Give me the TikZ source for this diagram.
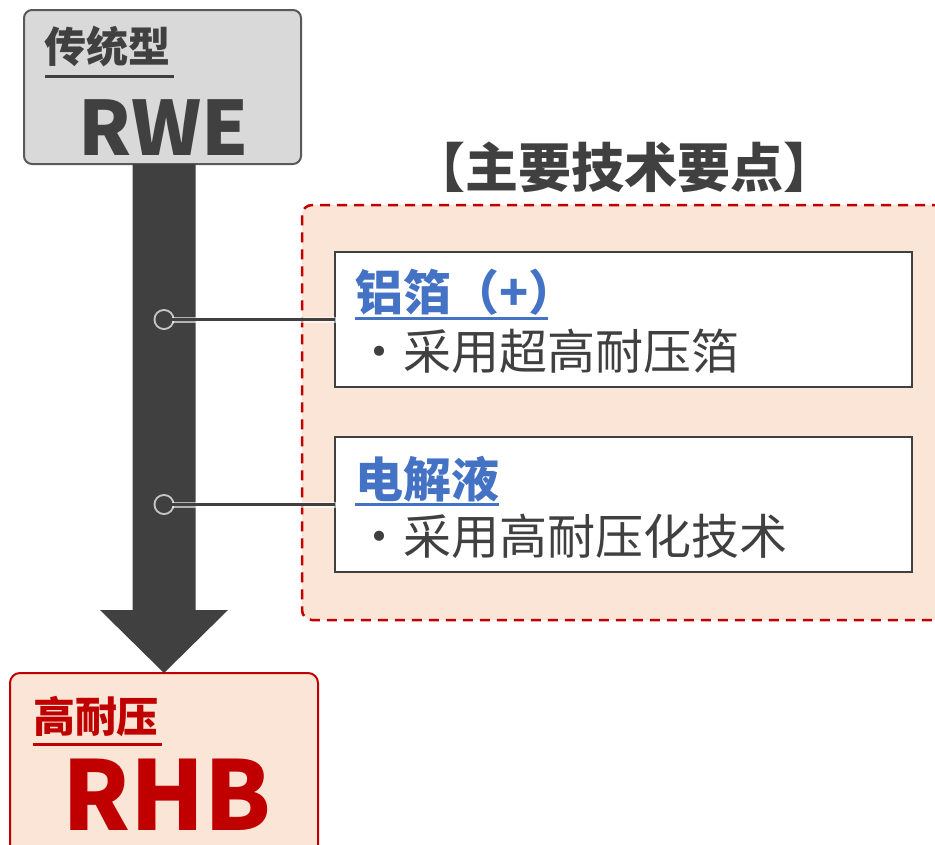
\documentclass[tikz,border=0pt]{standalone}
\usepackage{fontspec}
\setmainfont{Noto Sans CJK SC}
\usetikzlibrary{positioning, calc}

\definecolor{textgray}{HTML}{404040}
\definecolor{boxgray}{HTML}{D9D9D9}
\definecolor{framegray}{HTML}{595959}
\definecolor{peach}{HTML}{FBE5D6}
\definecolor{darkred}{HTML}{C00000}
\definecolor{headblue}{HTML}{4472C4}

\begin{document}
\begin{tikzpicture}[
    x=1pt, y=-1pt,
    every node/.style={inner sep=0pt, outer sep=0pt},
    % Font sizes (bold and regular)
    bold/.style={font=\fontsize{#1}{#1}\selectfont\bfseries},
    plain/.style={font=\fontsize{#1}{#1}\selectfont},
    % Boxes
    oldbox/.style={draw=framegray, line width=2pt, fill=boxgray, rounded corners=8pt},
    newbox/.style={draw=darkred, line width=2pt, fill=peach, rounded corners=10pt},
    keybox/.style={draw=darkred, line width=2.5pt, fill=peach, rounded corners=10pt,
                   dash pattern=on 10pt off 7pt},
    pointbox/.style={draw=textgray, line width=2pt, fill=white},
    % Underlines and leader lines
    uline/.style={draw=#1, line width=3pt},
    leader/.style={draw=textgray, line width=3pt},
    glow/.style={draw=white, line width=#1, opacity=0.6, line cap=round},
    dot/.style={circle, minimum size=17pt, fill=textgray}
]

\clip (0,0) rectangle (935,844);

% === BOXES ===

% Conventional type at the top
\node [oldbox, minimum width=277pt, minimum height=154pt] (rwe) at (162.5,87) {};

% High voltage type at the bottom (runs off the page)
\node [newbox, minimum width=308pt, minimum height=182pt] (rhb) at (164,764) {};

% Key points area
\node [keybox, minimum width=650pt, minimum height=415pt] (keypts) at (627,412.5) {};
\node [bold=53, text=textgray, anchor=base] (title) at (624,187) {【主要技术要点】};

% Point boxes
\node [pointbox, minimum width=577pt, minimum height=135pt] (foil) at (623.5,319.5) {};
\node [pointbox, minimum width=577pt, minimum height=135pt] (elyte) at (623.5,504.5) {};

% === BIG ARROW ===
\fill[textgray] ($(rwe.south -| rhb.north)+(-31.5,0)$)
    -- ($(rhb.north)+(-31.5,-63)$) -- ($(rhb.north)+(-64,-63)$)
    -- (rhb.north)
    -- ($(rhb.north)+(64,-63)$) -- ($(rhb.north)+(31.5,-63)$)
    -- ($(rwe.south -| rhb.north)+(31.5,0)$) -- cycle;

% === TEXTS ===

% RWE box
\node [bold=42, text=textgray, anchor=base west] (rwetag) at ($(rwe.north west)+(21,52)$) {传统型};
\draw[uline=textgray] ($(rwetag.base west)+(0,14)$) -- ($(rwetag.base east)+(3,14)$);
\node [bold=75, text=textgray, anchor=base] (rwename) at ($(rwe.south)+(1.5,-9)$) {RWE};

% RHB box
\node [bold=42, text=darkred, anchor=base west] (rhbtag) at ($(rhb.north west)+(23,59)$) {高耐压};
\node [bold=96, text=darkred, anchor=base] (rhbname) at ($(rhb.north)+(3,157)$) {RHB};
\draw[uline=darkred] ($(rhbtag.base west)+(0,12)$) -- ($(rhbtag.base east)+(3,12)$);

% Foil point
\node [bold=48, text=headblue, anchor=base west] (foilhd) at ($(foil.north west)+(20,58)$) {铝箔（+）};
\draw[uline=headblue] ($(foilhd.base west)+(0,8)$) -- ($(foilhd.base east)+(-28,8)$);
\node [plain=48, text=textgray, anchor=base west] (foiltxt) at ($(foil.north west)+(20,117)$) {・采用超高耐压箔};

% Electrolyte point
\node [bold=48, text=headblue, anchor=base west] (elytehd) at ($(elyte.north west)+(20,60)$) {电解液};
\draw[uline=headblue] ($(elytehd.base west)+(0,7)$) -- ($(elytehd.base east)+(0,7)$);
\node [plain=48, text=textgray, anchor=base west] (elytetxt) at ($(elyte.north west)+(20,117)$) {・采用高耐压化技术};

% === LEADERS ===
\node [dot] (foildot) at (rhb.north |- foil.west) {};
\node [dot] (elytedot) at (rhb.north |- elyte.west) {};
% faint white halo first
\draw[glow=6pt] (foildot.center) -- (foil.west);
\draw[glow=6pt] (elytedot.center) -- (elyte.west);
\fill[white, opacity=0.7] (foildot) circle (10.5pt);
\fill[white, opacity=0.7] (elytedot) circle (10.5pt);
% then the lines and dots
\draw[leader] (foildot.center) -- (foil.west);
\draw[leader] (elytedot.center) -- (elyte.west);
\fill[textgray] (foildot) circle (8.5pt);
\fill[textgray] (elytedot) circle (8.5pt);

\end{tikzpicture}
\end{document}
